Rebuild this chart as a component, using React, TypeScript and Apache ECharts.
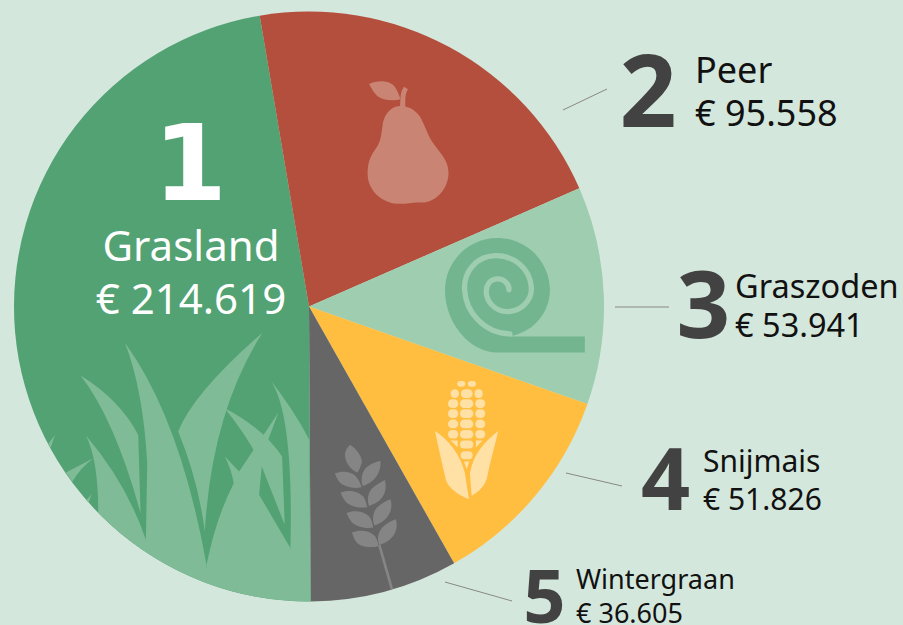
import React, { useEffect, useRef } from "react";
import * as echarts from "echarts";

const categories = ["Grasland", "Peer", "Graszoden", "Snijmais", "Wintergraan"];
const values = [214619, 95558, 53941, 51826, 36605];
const ranks = ["1", "2", "3", "4", "5"];
const sliceColors = ["#52a273", "#b34f3c", "#9ecdb0", "#ffbe40", "#666666"];

const FONT = '"Noto Sans", sans-serif';
const FOOTED = '"DejaVu Sans", sans-serif';
const euro = (n: number) => "€ " + String(n).replace(/\B(?=(\d{3})+$)/g, ".");

// layout, in page pixels: rank digit + two text lines
const layout = [
  { dx: 190, dBase: 205, dSize: 106, dFont: FOOTED, tx: 191, tAlign: "center", nBase: 260, vBase: 313, size: 42, rankFill: "#ffffff", fill: "#ffffff" },
  { dx: 648, dBase: 127, dSize: 100, dFont: FONT, tx: 695, tAlign: "left", nBase: 83, vBase: 126, size: 36, rankFill: "#424242", fill: "#111111" },
  { dx: 703.5, dBase: 339, dSize: 94, dFont: FONT, tx: 735, tAlign: "left", nBase: 298, vBase: 337, size: 32.5, rankFill: "#424242", fill: "#111111" },
  { dx: 665.5, dBase: 510, dSize: 86, dFont: FONT, tx: 703, tAlign: "left", nBase: 472, vBase: 510, size: 30, rankFill: "#424242", fill: "#111111" },
  { dx: 544.5, dBase: 623, dSize: 74, dFont: FONT, tx: 576, tAlign: "left", nBase: 588, vBase: 622, size: 27, rankFill: "#424242", fill: "#111111" },
];
const leaders = [
  [563, 110, 607, 89],
  [615, 307, 669, 307],
  [566, 473, 622, 486],
  [445, 582, 512, 601],
];

// icon outlines
const grassPaths = [
  "M205 579L348 665L530 745L782 690L839 700L842 844.500A885 885 0 0 1 205 579Z",
  "M168 347Q205 420 205 579A885 885 0 0 0 348 697L348 660Q290 490 168 347Z",
  "M285 68Q340 210 352 430L348 660L348 697A885 885 0 0 0 530 790L530 735Q452 298 285 68Z",
  "M530 735Q560 590 612 490Q605 450 585 410L628 455L746 278L716 358L696 440L688 525L782 685L782 843A885 885 0 0 1 530 790Z",
  "M712 168Q793 254 782 685L782 843A885 885 0 0 0 842 844.500L839 360Q790 265 712 168Z",
  "M585 265Q700 325 757 410L765 615L696 440Q668 370 585 265Z",
  "M698 38Q490 220 445 335Q505 480 525 635Q545 280 698 38Z",
  "M152 167Q270 240 325 345L332 580Q255 300 152 167Z",
  "M108 458L190 415Q150 445 127 486Z",
  "M54 373L75 345L62 384Z",
  "M169 541L185 523L176 548Z",
];
const pearPaths = [
  "M180 138C150 140 132 165 128 195C124 225 122 245 110 262C90 290 82 310 83 345C85 395 130 432 180 432C205 432 215 427 245 428C290 428 325 385 326 340C326 300 300 280 280 250C262 225 255 195 240 170C225 148 205 138 180 138Z",
  "M180 142L182 108Q184 90 192 80L204 88Q196 100 196 115L196 142Z",
  "M87 72C110 62 140 60 160 75C172 88 178 108 182 118C160 124 130 120 115 110C100 98 95 85 87 72Z",
];
const rollOuter = "M45 196C45 110 115 39 202 39C290 39 360 110 360 196C360 270 300 330 230 335L465 335L465 383L205 383C115 383 45 290 45 196Z";
const rollSpiral = "M237 195C238 175 220 160 200 162C178 164 165 185 170 210C176 240 205 262 235 260C275 258 308 225 304 185C300 130 250 90 195 92C140 94 100 140 104 195C108 265 165 325 240 327";
const cornLeaves = [
  "M75 183C115 210 150 250 165 310L177 388C150 378 115 355 108 330C98 290 85 230 75 183Z",
  "M265 183C225 215 190 250 180 310L185 378C205 368 228 345 232 320C240 280 255 225 265 183Z",
];
const cornTips = ["M122 212L143 212L143 232Z", "M198 232L218 212L198 212Z", "M162 275L178 275L170 298Z"];
const cornKernels = [
  [142, 33, 24, 17], [174, 33, 24, 17],
  [122, 58, 25, 26], [153, 58, 35, 26], [194, 58, 24, 26],
  [114, 88, 31, 26], [150, 88, 40, 26], [196, 88, 30, 26],
  [114, 118, 31, 26], [150, 118, 40, 26], [196, 118, 30, 26],
  [114, 149, 31, 26], [150, 149, 40, 26], [196, 149, 30, 26],
  [114, 180, 31, 26], [150, 180, 40, 26], [196, 180, 30, 26],
  [150, 212, 40, 24], [152, 244, 36, 24],
];
const wheatPaths = [
  "M90 44C110 55 130 85 125 100C120 115 115 125 112 128C95 120 75 100 75 75C75 60 85 50 90 44Z",
  "M181 92C185 120 170 155 128 168C122 150 125 125 140 112C150 102 170 95 181 92Z",
  "M45 130C70 120 100 125 112 145C120 155 122 165 125 172C100 178 75 170 62 160C52 150 48 140 45 130Z",
  "M195 150C203 185 190 215 147 228C140 205 145 185 160 172C170 163 185 155 195 150Z",
  "M62 188C85 178 115 183 130 200C138 212 140 225 142 232C115 236 90 228 78 216C70 207 65 197 62 188Z",
  "M212 208C222 245 200 275 163 287C155 265 160 245 172 232C185 220 200 212 212 208Z",
  "M80 250C100 240 130 243 148 260C156 270 158 285 160 293C135 298 105 288 95 276C88 268 83 258 80 250Z",
  "M228 268C238 305 215 335 178 345C170 325 175 305 188 292C200 280 215 272 228 268Z",
  "M96 308C120 298 150 302 165 318C172 328 175 342 176 348C150 356 120 350 110 338C103 330 99 318 96 308Z",
];

let shapeId = 0;
const shape = (d: string, style: any, z = 5) => {
  const name = "icon" + shapeId++;
  echarts.graphic.registerShape(name, echarts.graphic.extendPath(d, {}) as any);
  return { type: name, z, silent: true, style };
};

const icon = (x: number, y: number, children: any[]) => ({
  type: "group", x, y, scaleX: 1 / 3, scaleY: 1 / 3, silent: true, children,
});

const textEl = (text: string, x: number, base: number, size: number, fill: string, align: string, font = FONT, weight = "normal", k = 0.37) => ({
  type: "text", z: 7, silent: true,
  x, y: base - size * k,
  style: { text, fill, font: `${weight} ${size}px ${font}`, textAlign: align, textVerticalAlign: "middle" },
});

export default function App() {
  const ref = useRef<HTMLDivElement>(null);
  useEffect(() => {
    const chart = echarts.init(ref.current!, undefined, { renderer: "svg" });
    const elements: any[] = [
      icon(30, 320, grassPaths.map((d) => shape(d, { fill: "#80bb97" }))),
      icon(340, 60, pearPaths.map((d) => shape(d, { fill: "#ca8474" }))),
      icon(430, 225, [
        shape(rollOuter, { fill: "#73b58f" }, 5),
        shape(rollSpiral, { fill: "none", stroke: "#9ecdb0", lineWidth: 16, lineCap: "round" }, 6),
      ]),
      icon(410, 370, [
        ...cornKernels.map(([x, y, w, h]) => ({ type: "rect", z: 5, silent: true, shape: { x, y, width: w, height: h, r: Math.min(w, h) / 2 }, style: { fill: "#ffe0a5" } })),
        ...cornTips.map((d) => shape(d, { fill: "#ffe0a5" })),
        ...cornLeaves.map((d) => shape(d, { fill: "#ffe0a5" })),
      ]),
      icon(320, 430, [
        { type: "line", z: 5, silent: true, shape: { x1: 178, y1: 345, x2: 216, y2: 478 }, style: { stroke: "#858585", lineWidth: 8 } },
        ...wheatPaths.map((d) => shape(d, { fill: "#858585" })),
      ]),
      ...leaders.map(([x1, y1, x2, y2]) => ({
        type: "line", z: 4, silent: true, shape: { x1, y1, x2, y2 }, style: { stroke: "#888888", lineWidth: 1 },
      })),
    ];
    categories.forEach((c, i) => {
      const l = layout[i];
      elements.push(textEl(ranks[i], l.dx, l.dBase, l.dSize, l.rankFill, "center", l.dFont, "bold", 0.39));
      elements.push(textEl(c, l.tx, l.nBase, l.size, l.fill, l.tAlign));
      elements.push(textEl(euro(values[i]), l.tx, l.vBase, l.size, l.fill, l.tAlign));
    });
    chart.setOption({
      animation: false,
      backgroundColor: "#d4e7dc",
      series: [
        {
          type: "pie",
          silent: true,
          center: [309, 306.5],
          radius: [0, 295],
          startAngle: 270.35,
          clockwise: true,
          label: { show: false },
          labelLine: { show: false },
          data: categories.map((name, i) => ({ name, value: values[i], itemStyle: { color: sliceColors[i] } })),
        },
      ],
      graphic: { elements },
    });
    return () => chart.dispose();
  }, []);
  return <div ref={ref} style={{ position: "fixed", left: 0, top: 0, width: 903, height: 625 }} />;
}
